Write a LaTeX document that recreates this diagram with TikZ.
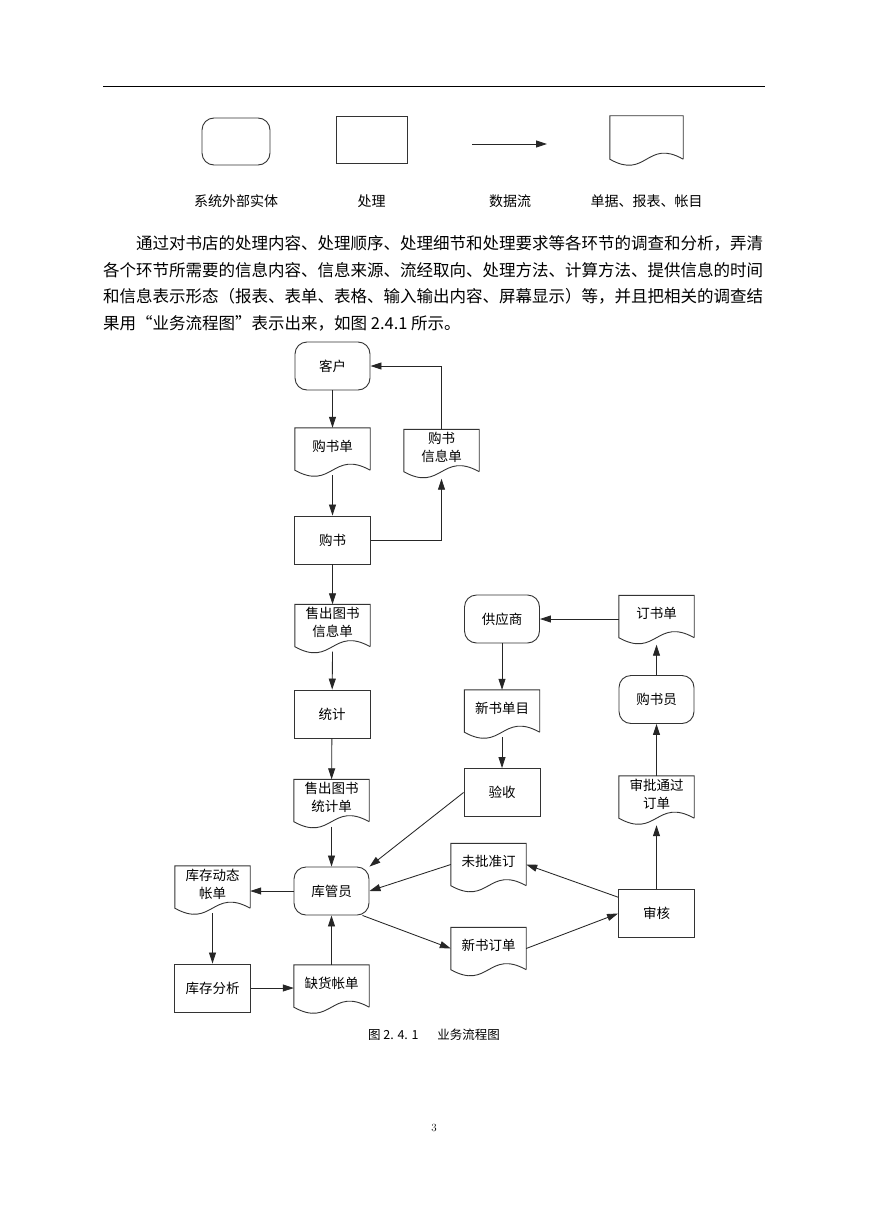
\documentclass[tikz,border=0pt]{standalone}
\usepackage{fontspec}
\newfontfamily\cjk{Noto Sans CJK SC}
\usetikzlibrary{arrows.meta}

\tikzset{
  outline/.style={draw=black!80, line width=0.9pt},
  boxfont/.style={font=\cjk\fontsize{13.5}{18}\selectfont},
  entity/.style={outline, boxfont, rounded corners=12pt, minimum width=75pt, minimum height=48pt, inner sep=0pt, align=center},
  proc/.style={outline, boxfont, minimum width=76pt, minimum height=48pt, inner sep=0pt, align=center},
  doc/.style={boxfont, minimum width=75pt, minimum height=42pt, inner sep=0pt, align=center, text depth=7pt},
  flow/.style={draw=black!85, line width=0.85pt, -{Triangle[length=11pt,width=7pt]}},
  leglabel/.style={font=\cjk\fontsize{14}{16}\selectfont, inner sep=0pt},
  para/.style={anchor=west, inner sep=0pt, font=\cjk\fontsize{16.5}{20}\selectfont},
}

\begin{document}
\begin{tikzpicture}[x=1pt, y=-1pt]

	\newcommand*{\docshape}[1]{%
		\draw[outline] (#1.south east) -- (#1.north east) -- (#1.north west) -- (#1.south west)
			.. controls ([yshift=-21pt]#1.south) and ([yshift=21pt]#1.south) .. (#1.south east);
	}%

	\fill[white] (0,0) rectangle (869,1228);
	\draw[line width=1pt] (103,87) -- (765,87);

	% legend
	\node[entity, minimum width=68pt, minimum height=47pt] (legEntity) at (236,141.5) {};
	\node[proc, minimum width=71pt, minimum height=47pt] (legProc) at (371.5,140) {};
	\coordinate (legFrom) at (472,144);
	\coordinate (legTo) at (547,144);
	\draw[flow] (legFrom) -- (legTo);
	\node[doc, minimum width=73pt, minimum height=43pt] (legDoc) at (646.5,137.5) {};
	\node[leglabel] (legEntityText) at (236,201) {系统外部实体};
	\node[leglabel] (legProcText) at (371.5,201) {处理};
	\node[leglabel] (legFlowText) at (510,201) {数据流};
	\node[leglabel] (legDocText) at (646.5,201) {单据、报表、帐目};

	% text
	\node[para] (lineA) at (136,243) {通过对书店的处理内容、处理顺序、处理细节和处理要求等各环节的调查和分析，弄清};
	\node[para] (lineB) at (103,270) {各个环节所需要的信息内容、信息来源、流经取向、处理方法、计算方法、提供信息的时间};
	\node[para] (lineC) at (103,296.5) {和信息表示形态（报表、表单、表格、输入输出内容、屏幕显示）等，并且把相关的调查结};
	\node[para] (lineD) at (103,323) {果用“业务流程图”表示出来，如图 2.4.1 所示。};

	% flow chart
	\node[entity] (customer) at (332.5,366) {客户};
	\node[doc] (buyForm) at (332.5,449) {购书单};
	\node[doc] (buyInfo) at (441.5,450.5) {购书\\信息单};
	\node[proc] (buy) at (332.5,540) {购书};
	\node[doc] (soldInfo) at (332.5,625.5) {售出图书\\信息单};
	\node[proc] (stats) at (332,714) {统计};
	\node[doc] (soldStats) at (331.5,800.5) {售出图书\\统计单};
	\node[entity] (keeper) at (331.5,891) {库管员};
	\node[doc] (stockFlow) at (212.5,887) {库存动态\\帐单};
	\node[proc] (stockAnalysis) at (212.5,988) {库存分析};
	\node[doc] (shortage) at (331.5,986) {缺货帐单};

	\node[entity] (supplier) at (502,619) {供应商};
	\node[doc] (newList) at (502,711) {新书单目};
	\node[proc] (accept) at (502,792.5) {验收};
	\node[doc] (notApproved) at (488.5,864.5) {未批准订};
	\node[doc] (newOrder) at (488.5,948.5) {新书订单};

	\node[doc] (bookOrder) at (656.5,616.5) {订书单};
	\node[entity] (buyer) at (656.5,699.5) {购书员};
	\node[doc] (approved) at (656.5,797) {审批通过\\订单};
	\node[proc] (review) at (656.5,913.5) {审核};

	\foreach \d in {legDoc,buyForm,buyInfo,soldInfo,soldStats,stockFlow,shortage,newList,notApproved,newOrder,bookOrder,approved}{
		\docshape{\d}
	}

	\draw[flow] (customer) -- (buyForm);
	\draw[flow] ([yshift=-5pt]buyForm.south) -- (buy);
	\draw[flow] (buy.east) -| ([yshift=-7pt]buyInfo.south);
	\draw[flow] (buyInfo.north) |- (customer.east);
	\draw[flow] (buy) -- (soldInfo);
	\draw[flow] ([yshift=-5pt]soldInfo.south) -- (stats);
	\draw[flow] (stats) -- (soldStats);
	\draw[flow] ([yshift=-5pt]soldStats.south) -- (keeper);
	\draw[flow] (keeper.west) -- (keeper.west -| stockFlow.east);
	\draw[flow] ([yshift=-5pt]stockFlow.south) -- (stockAnalysis);
	\draw[flow] (stockAnalysis.east) -- (stockAnalysis.east -| shortage.west);
	\draw[flow] (shortage) -- (keeper);
	\draw[flow] (accept.west) -- (keeper.north east);
	\draw[flow] (notApproved.west) -- (keeper.east);
	\draw[flow] (review.157) -- (notApproved.east);
	\draw[flow] ([xshift=-7pt]keeper.south east) -- (newOrder.west);
	\draw[flow] (newOrder.east) -- (review.west);
	\draw[flow] (review) -- ([yshift=-7pt]approved.south);
	\draw[flow] (approved) -- (buyer);
	\draw[flow] (buyer) -- ([yshift=-7pt]bookOrder.south);
	\draw[flow] (bookOrder.west |- supplier.east) -- (supplier.east);
	\draw[flow] (supplier) -- (newList);
	\draw[flow] ([yshift=-5pt]newList.south) -- (accept);

	\node[font=\cjk\fontsize{12.5}{15}\selectfont, inner sep=0pt] (figCaption) at (434,1035) {图 2. 4. 1\hspace{1.5em}业务流程图};
	\node[font=\fontsize{11}{13}\selectfont, inner sep=0pt] (pageNo) at (434,1128) {3};

\end{tikzpicture}
\end{document}
